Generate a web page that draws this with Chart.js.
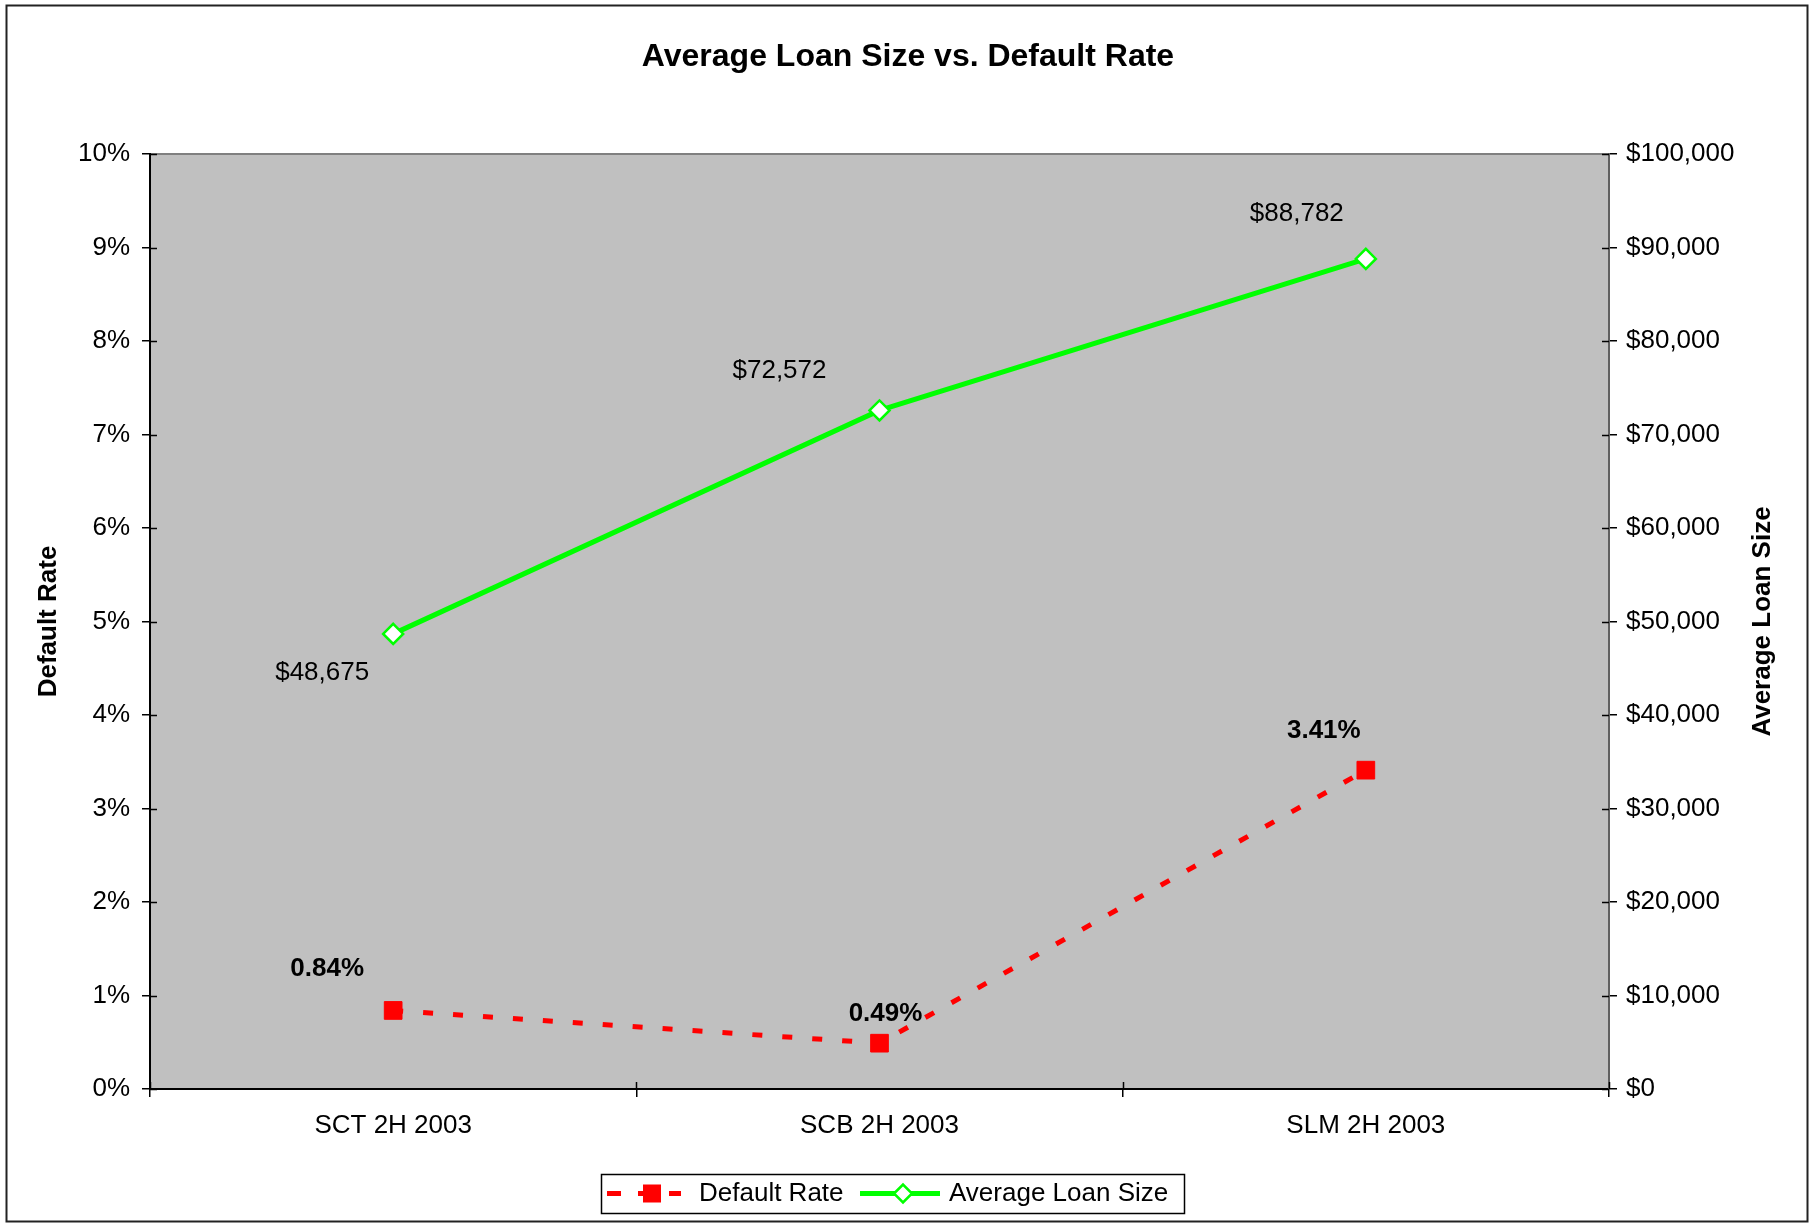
<!DOCTYPE html>
<html>
<head>
<meta charset="utf-8">
<title>Average Loan Size vs. Default Rate</title>
<script src="https://cdn.jsdelivr.net/npm/chart.js@4.4.1/dist/chart.umd.min.js"></script>
<style>
  html, body { margin: 0; padding: 0; background: #fff; }
  #wrap { position: relative; width: 1815px; height: 1223px; }
</style>
</head>
<body>
<div id="wrap"><canvas id="loanChart" width="1815" height="1223"></canvas></div>
<script>
// ===== Data =====
const categories = ['SCT 2H 2003', 'SCB 2H 2003', 'SLM 2H 2003'];
const defaultRate = [0.84, 0.49, 3.41];          // percent
const avgLoanSize = [48675, 72572, 88782];       // dollars
const rateTicks = [0, 1, 2, 3, 4, 5, 6, 7, 8, 9, 10];
const loanTicks = [0, 10000, 20000, 30000, 40000, 50000, 60000, 70000, 80000, 90000, 100000];

const FONT = "'Liberation Sans', Arial, sans-serif";
Chart.defaults.font.family = FONT;
Chart.defaults.font.size = 26;
Chart.defaults.color = '#000';

const fmtRate = v => v.toFixed(2) + '%';
const fmtMoney = v => '$' + v.toLocaleString('en-US');

// label offsets from each point (px), [dx, dy]
const labelOffsets = [
    [[-66, -42], [6, -29], [-42, -39]],
    [[-71, 39], [-100, -40], [-69, -45]]
];

// plot background, border, title, extra ticks, labels, legend
const excelLook = {
    id: 'excelLook',
    beforeDraw(chart) {
        const { ctx, chartArea: a } = chart;
        ctx.save();
        ctx.fillStyle = '#C0C0C0';
        ctx.fillRect(a.left, a.top, a.right - a.left, a.bottom - a.top);
        ctx.strokeStyle = '#808080';
        ctx.lineWidth = 2;
        ctx.strokeRect(a.left, a.top, a.right - a.left, a.bottom - a.top);
        ctx.restore();
    },
    beforeDatasetsDraw(chart) {
        const { ctx, chartArea: a, scales } = chart;
        ctx.save();
        ctx.strokeStyle = '#000';
        ctx.lineWidth = 1.5;
        ctx.beginPath();
        scales.y.ticks.forEach(t => {
            const py = Math.round(scales.y.getPixelForValue(t.value)) + 0.5;
            ctx.moveTo(a.left, py); ctx.lineTo(a.left + 7, py);
        });
        scales.y1.ticks.forEach(t => {
            const py = Math.round(scales.y1.getPixelForValue(t.value)) + 0.5;
            ctx.moveTo(a.right - 7, py); ctx.lineTo(a.right, py);
        });
        for (let i = 0; i <= categories.length; i++) {
            const px = Math.round(scales.x.getPixelForValue(i - 0.5)) + 0.5;
            ctx.moveTo(px, a.bottom - 7); ctx.lineTo(px, a.bottom);
        }
        ctx.stroke();
        ctx.restore();
    },
    afterDraw(chart) {
        const { ctx, chartArea: a } = chart;
        ctx.save();

        // outer frame
        ctx.strokeStyle = '#222';
        ctx.lineWidth = 2;
        ctx.strokeRect(6.5, 5.5, 1801, 1216);

        // title
        ctx.fillStyle = '#000';
        ctx.textAlign = 'center';
        ctx.textBaseline = 'middle';
        ctx.font = 'bold 32px ' + FONT;
        ctx.fillText('Average Loan Size vs. Default Rate', 908, 57);

        // right axis title, reading bottom to top
        ctx.save();
        ctx.translate(1763, (a.top + a.bottom) / 2);
        ctx.rotate(-Math.PI / 2);
        ctx.font = 'bold 26px ' + FONT;
        ctx.fillText('Average Loan Size', 0, 0);
        ctx.restore();

        // data labels
        chart.data.datasets.forEach((ds, di) => {
            const meta = chart.getDatasetMeta(di);
            ctx.font = (di === 0 ? 'bold ' : '') + '26px ' + FONT;
            meta.data.forEach((pt, i) => {
                const txt = di === 0 ? fmtRate(ds.data[i]) : fmtMoney(ds.data[i]);
                const off = labelOffsets[di][i];
                ctx.fillText(txt, pt.x + off[0], pt.y + off[1]);
            });
        });

        // legend
        const ly = 1193.5;
        ctx.strokeStyle = '#000';
        ctx.lineWidth = 1.5;
        ctx.strokeRect(601.5, 1174.5, 583, 39);

        ctx.strokeStyle = '#FF0000';
        ctx.lineWidth = 5;
        ctx.setLineDash([14, 17]);
        ctx.beginPath(); ctx.moveTo(607, ly); ctx.lineTo(681, ly); ctx.stroke();
        ctx.setLineDash([]);
        ctx.fillStyle = '#FF0000';
        ctx.fillRect(643, ly - 9, 18, 18);

        ctx.strokeStyle = '#00FF00';
        ctx.beginPath(); ctx.moveTo(860, ly); ctx.lineTo(940, ly); ctx.stroke();
        ctx.fillStyle = '#fff';
        ctx.lineWidth = 2.5;
        ctx.beginPath();
        ctx.moveTo(903 - 9, ly); ctx.lineTo(903, ly - 9); ctx.lineTo(903 + 9, ly); ctx.lineTo(903, ly + 9);
        ctx.closePath(); ctx.fill(); ctx.stroke();

        ctx.fillStyle = '#000';
        ctx.textAlign = 'left';
        ctx.font = '26px ' + FONT;
        ctx.fillText('Default Rate', 699, ly);
        ctx.fillText('Average Loan Size', 949, ly);

        ctx.restore();
    }
};

new Chart(document.getElementById('loanChart'), {
    type: 'line',
    data: {
        labels: categories,
        datasets: [
            {
                label: 'Default Rate',
                data: defaultRate,
                yAxisID: 'y',
                borderColor: '#FF0000',
                borderWidth: 5,
                borderDash: [10, 20],
                borderCapStyle: 'butt',
                pointStyle: 'rect',
                pointRadius: 12.5,
                pointBackgroundColor: '#FF0000',
                pointBorderColor: '#FF0000',
                pointBorderWidth: 1,
                tension: 0,
                fill: false
            },
            {
                label: 'Average Loan Size',
                data: avgLoanSize,
                yAxisID: 'y1',
                borderColor: '#00FF00',
                borderWidth: 5,
                pointStyle: 'rectRot',
                pointRadius: 10,
                pointBackgroundColor: '#FFFFFF',
                pointBorderColor: '#00FF00',
                pointBorderWidth: 2.5,
                tension: 0,
                fill: false
            }
        ]
    },
    options: {
        responsive: false,
        animation: false,
        devicePixelRatio: 1,
        layout: { padding: { top: 154, bottom: 74, left: 0, right: 0 } },
        plugins: {
            legend: { display: false },
            title: { display: false },
            tooltip: { enabled: false }
        },
        scales: {
            x: {
                type: 'category',
                offset: true,
                grid: { offset: true, drawOnChartArea: false, tickLength: 8, color: '#000', lineWidth: 1.5 },
                border: { color: '#000', width: 2 },
                ticks: { padding: 13, maxRotation: 0, autoSkip: false },
                afterFit: s => { s.height = 60; }
            },
            y: {
                position: 'left',
                min: 0,
                max: 10,
                afterBuildTicks: s => { s.ticks = rateTicks.map(v => ({ value: v })); },
                grid: { drawOnChartArea: false, tickLength: 8, color: '#000', lineWidth: 1.5 },
                border: { color: '#000', width: 2 },
                ticks: { padding: 12, callback: v => v + '%' },
                title: {
                    display: true,
                    text: 'Default Rate',
                    font: { size: 26, weight: 'bold' },
                    padding: { top: 33, bottom: 0 }
                },
                afterFit: s => { s.width = 150; }
            },
            y1: {
                position: 'right',
                min: 0,
                max: 100000,
                afterBuildTicks: s => { s.ticks = loanTicks.map(v => ({ value: v })); },
                grid: { drawOnChartArea: false, tickLength: 8, color: '#000', lineWidth: 1.5 },
                border: { color: '#606060', width: 2 },
                ticks: { padding: 9, callback: v => fmtMoney(v) },
                afterFit: s => { s.width = 206; }
            }
        }
    },
    plugins: [excelLook]
});
</script>
</body>
</html>
